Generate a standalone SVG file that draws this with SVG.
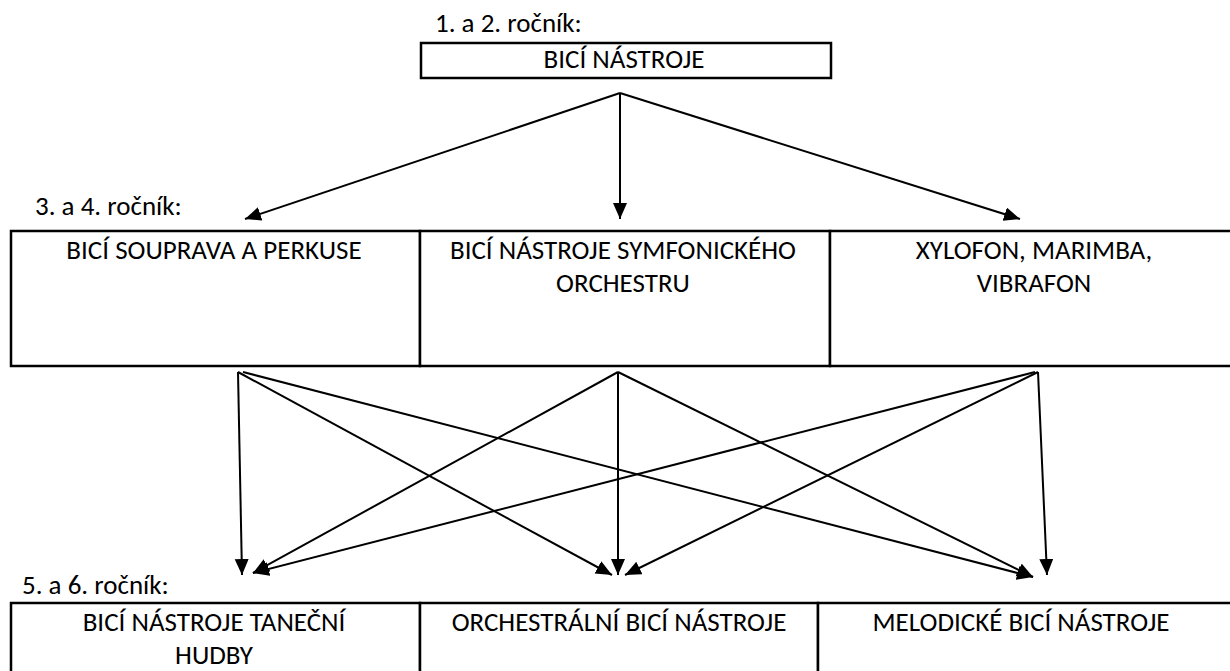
<svg xmlns="http://www.w3.org/2000/svg" width="1230" height="671" viewBox="0 0 1230 671">
<style>
text{font-family:Carlito,"Open Sans",sans-serif;font-size:27px;fill:#000}
.c{text-anchor:middle}
.box{fill:#fff;stroke:#000;stroke-width:2.5}
.ln{stroke:#000;stroke-width:2;fill:none;marker-end:url(#ah)}
</style>
<defs>
<marker id="ah" markerUnits="userSpaceOnUse" markerWidth="17" markerHeight="15" refX="16" refY="7" orient="auto" viewBox="0 0 17 15">
<path d="M0,0 L16,7 L0,14 z" fill="#000"/>
</marker>
</defs>
<rect width="1230" height="671" fill="#fff"/>
<g id="lvl1">
<text x="435" y="32">1. a 2. ročník:</text>
<rect class="box" x="421" y="43" width="410" height="35"/>
<text class="c" x="624" y="68">BICÍ NÁSTROJE</text>
</g>
<text x="35" y="215">3. a 4. ročník:</text>
<g id="n-souprava">
<rect class="box" x="11" y="231" width="409" height="135"/>
<text class="c" x="214" y="259">BICÍ SOUPRAVA A PERKUSE</text>
</g>
<g id="n-symfonicke">
<rect class="box" x="420" y="231" width="410" height="135"/>
<text class="c" x="623" y="259">BICÍ NÁSTROJE SYMFONICKÉHO</text>
<text class="c" x="623" y="292">ORCHESTRU</text>
</g>
<g id="n-xylofon">
<rect class="box" x="830" y="231" width="410" height="135"/>
<text class="c" x="1034" y="259">XYLOFON, MARIMBA,</text>
<text class="c" x="1034" y="292">VIBRAFON</text>
</g>
<text x="22" y="594">5. a 6. ročník:</text>
<g id="n-tanecni">
<rect class="box" x="11" y="603" width="409" height="80"/>
<text class="c" x="214" y="631">BICÍ NÁSTROJE TANEČNÍ</text>
<text class="c" x="214" y="664">HUDBY</text>
</g>
<g id="n-orchestralni">
<rect class="box" x="420" y="603" width="398" height="80"/>
<text class="c" x="619" y="631">ORCHESTRÁLNÍ BICÍ NÁSTROJE</text>
</g>
<g id="n-melodicke">
<rect class="box" x="818" y="603" width="422" height="80"/>
<text class="c" x="1021" y="631">MELODICKÉ BICÍ NÁSTROJE</text>
</g>
<g id="connectors">
<line class="ln" x1="620" y1="93" x2="245" y2="219"/>
<line class="ln" x1="620" y1="93" x2="620" y2="219"/>
<line class="ln" x1="620" y1="93" x2="1020" y2="219"/>
<line class="ln" x1="238" y1="372" x2="242" y2="575"/>
<line class="ln" x1="238" y1="372" x2="612" y2="575"/>
<line class="ln" x1="243" y1="372" x2="1033" y2="577"/>
<line class="ln" x1="618" y1="372" x2="253" y2="573"/>
<line class="ln" x1="618" y1="372" x2="618" y2="575"/>
<line class="ln" x1="618" y1="372" x2="1033" y2="577"/>
<line class="ln" x1="1035" y1="372" x2="253" y2="573"/>
<line class="ln" x1="1038" y1="372" x2="625" y2="575"/>
<line class="ln" x1="1038" y1="372" x2="1047" y2="575"/>
</g>
</svg>
